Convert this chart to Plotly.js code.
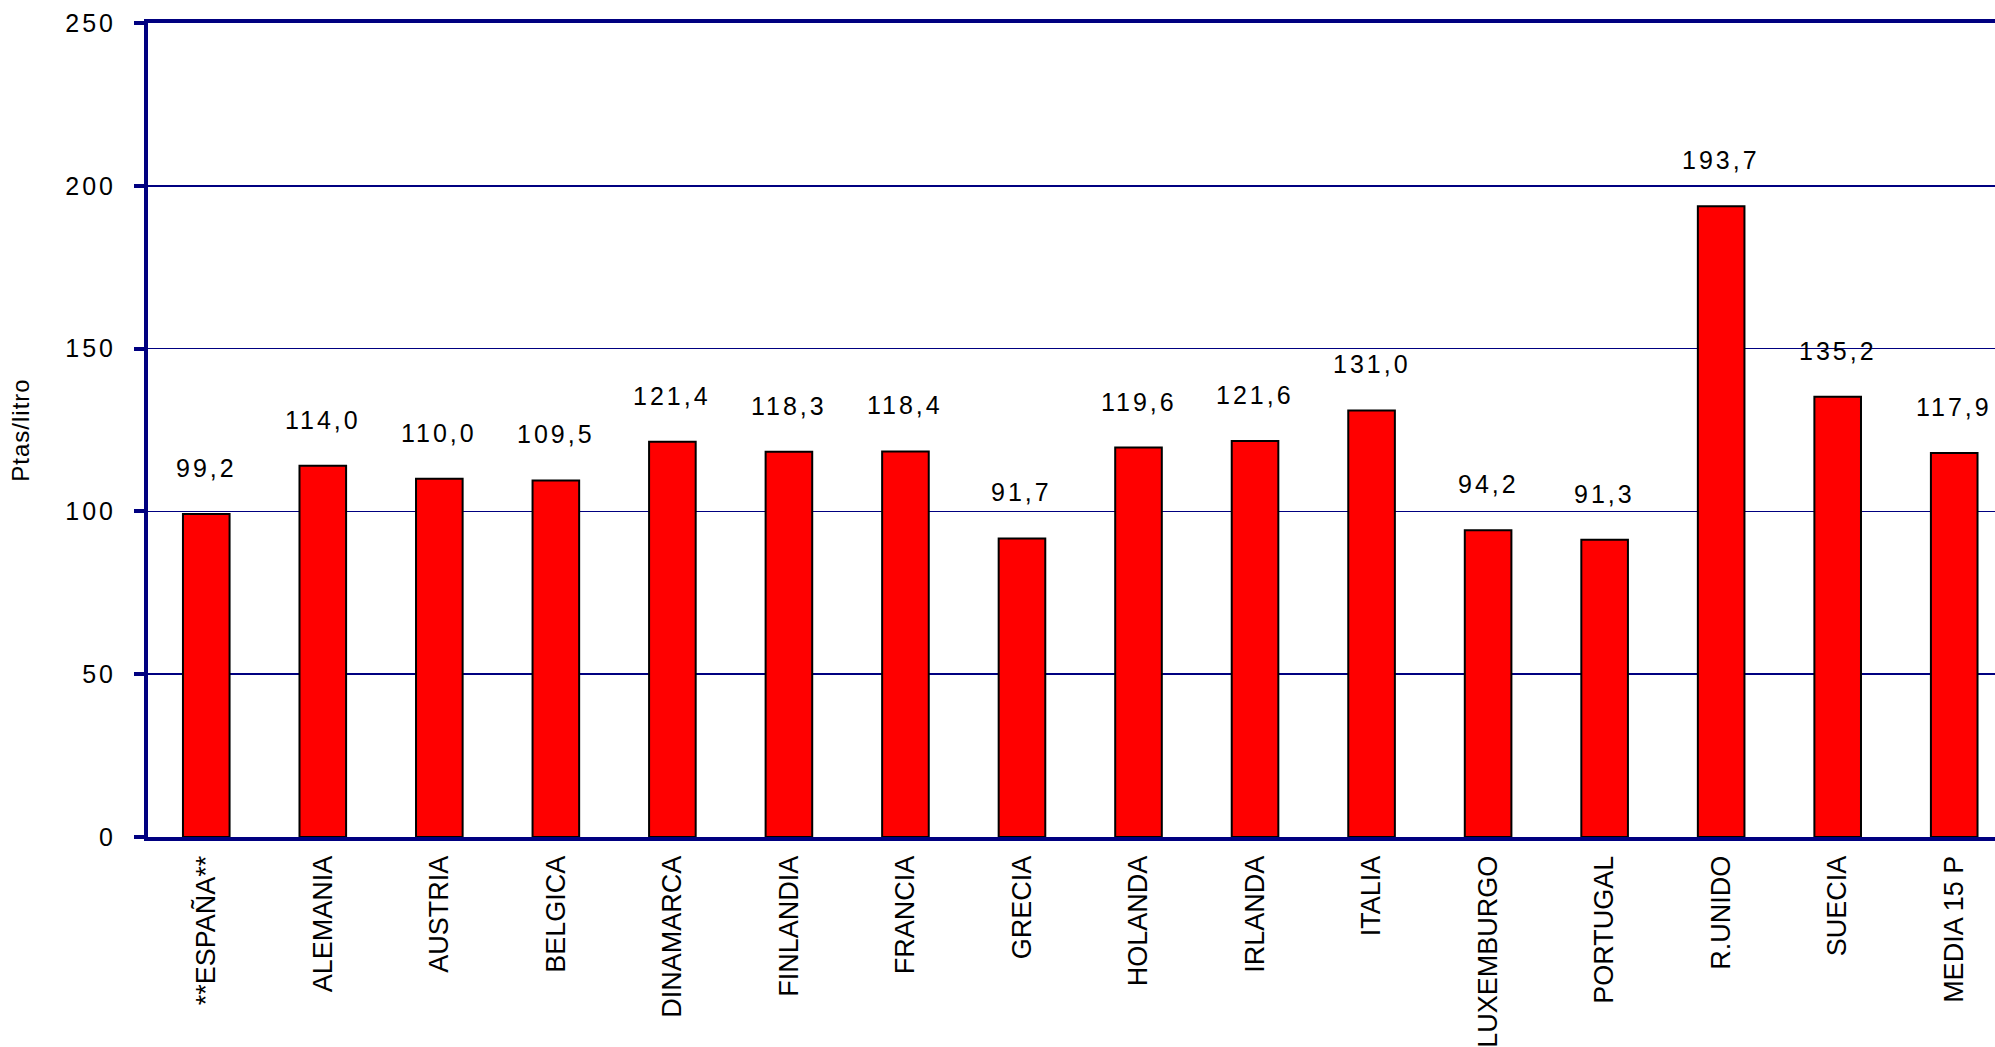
<!DOCTYPE html>
<html>
<head>
<meta charset="utf-8">
<script src="https://cdn.plot.ly/plotly-3.0.1.min.js"></script>
<style>
  html, body { margin: 0; padding: 0; background: #fff; }
  #chart { width: 1995px; height: 1047px; }
  .ytick text { letter-spacing: 3px; }
  .annotation-text { letter-spacing: 3px; }
  .ytitle { letter-spacing: 1px; }
</style>
</head>
<body>
<div id="chart"></div>
<script>
const categories = ["**ESPAÑA**", "ALEMANIA", "AUSTRIA", "BELGICA", "DINAMARCA", "FINLANDIA",
  "FRANCIA", "GRECIA", "HOLANDA", "IRLANDA", "ITALIA", "LUXEMBURGO", "PORTUGAL",
  "R.UNIDO", "SUECIA", "MEDIA 15 P"];
const values = [99.2, 114.0, 110.0, 109.5, 121.4, 118.3, 118.4, 91.7, 119.6, 121.6,
  131.0, 94.2, 91.3, 193.7, 135.2, 117.9];
const valueLabels = ["99,2", "114,0", "110,0", "109,5", "121,4", "118,3", "118,4", "91,7",
  "119,6", "121,6", "131,0", "94,2", "91,3", "193,7", "135,2", "117,9"];
const yTickVals = [0, 50, 100, 150, 200, 250];
const yTitle = "Ptas/litro";

const FONT = "Arial, 'Liberation Sans', sans-serif";
const NAVY = "#000080";

const trace = {
  type: "bar",
  x: categories,
  y: values,
  marker: { color: "#FF0000", line: { color: "#000000", width: 2 } },
  hoverinfo: "skip"
};

const annotations = categories.map((c, i) => ({
  x: c, y: values[i], xref: "x", yref: "y",
  text: valueLabels[i], showarrow: false,
  yanchor: "middle", xanchor: "center", yshift: 46,
  font: { family: FONT, size: 25, color: "#000" }
}));

const layout = {
  width: 1995, height: 1047,
  margin: { l: 148, r: 0, t: 23, b: 210, pad: 0 },
  paper_bgcolor: "#fff", plot_bgcolor: "#fff",
  showlegend: false,
  bargap: 0.6,
  font: { family: FONT, color: "#000" },
  xaxis: {
    type: "category",
    range: [-0.5, 15.35],
    showgrid: false,
    showline: true, linecolor: NAVY, linewidth: 4, mirror: true,
    ticks: "", tickangle: -90,
    ticklabelstandoff: 4,
    tickfont: { family: FONT, size: 27, color: "#000" },
    fixedrange: true
  },
  yaxis: {
    range: [0, 250],
    tickvals: yTickVals,
    ticktext: yTickVals.map(String),
    showgrid: true, gridcolor: NAVY, gridwidth: 1.5,
    zeroline: false,
    showline: true, linecolor: NAVY, linewidth: 4,
    ticks: "outside", ticklen: 10, tickwidth: 4, tickcolor: NAVY,
    ticklabelstandoff: 13,
    tickfont: { family: FONT, size: 25, color: "#000" },
    title: { text: yTitle, font: { family: FONT, size: 24, color: "#000" }, standoff: 30 },
    fixedrange: true
  },
  annotations: annotations
};

Plotly.newPlot("chart", [trace], layout, { displayModeBar: false, staticPlot: true });
</script>
</body>
</html>
